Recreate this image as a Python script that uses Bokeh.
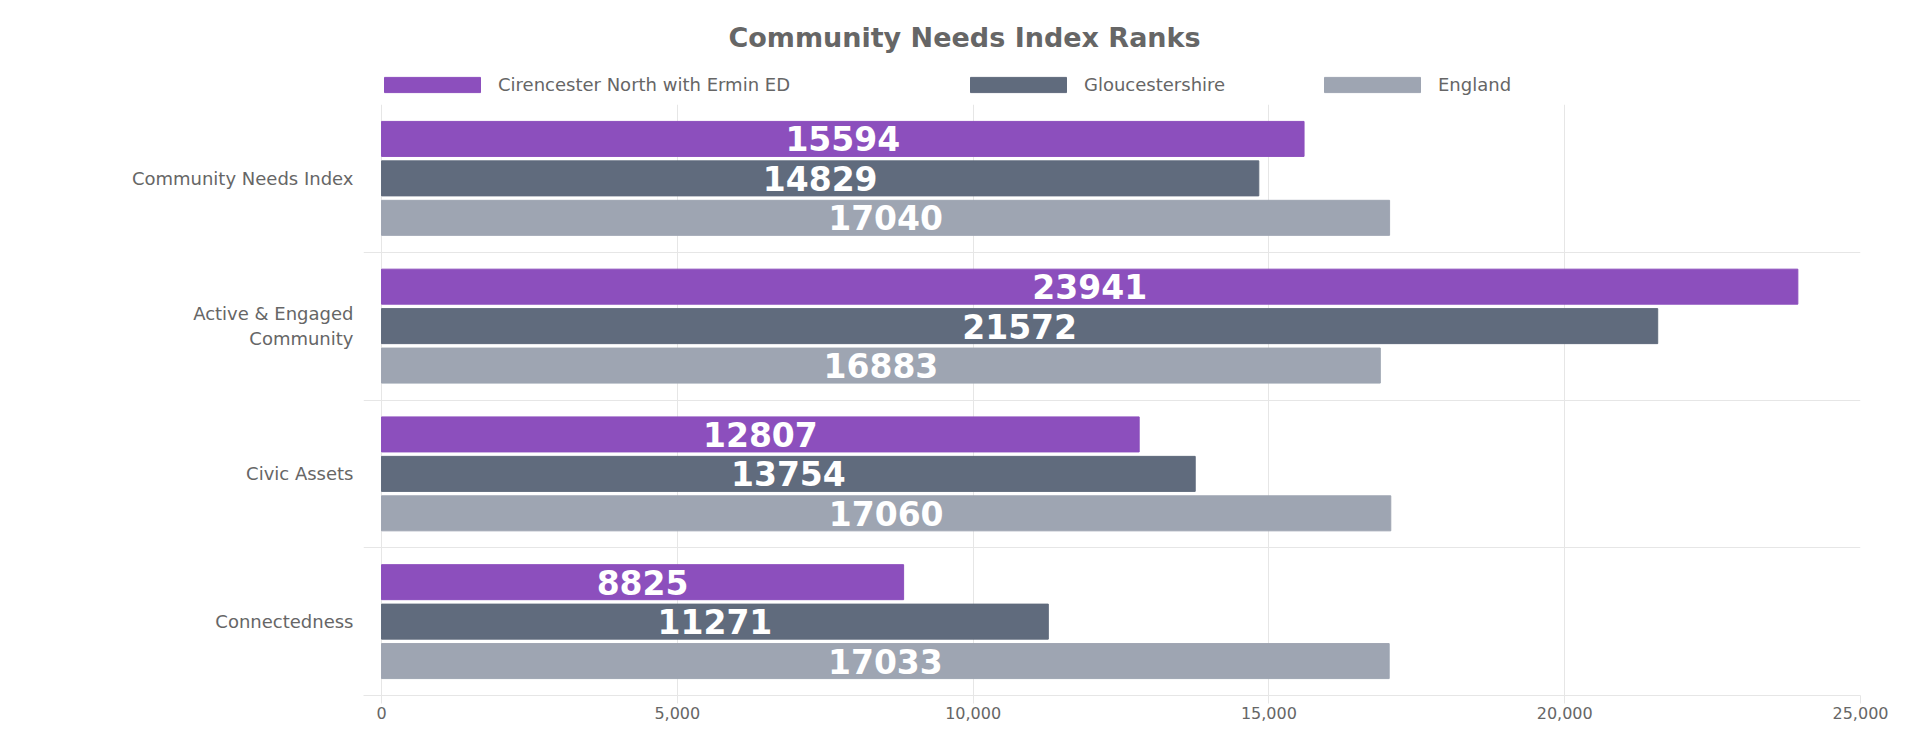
from bokeh.plotting import figure
from bokeh.layouts import column
from bokeh.models import (ColumnDataSource, FactorRange, Range1d, FixedTicker,
                          NumeralTickFormatter, Legend, LegendItem, Label)
from bokeh.transform import dodge
from bokeh.core.properties import value
from bokeh.embed import file_html
from bokeh.resources import INLINE

# ---------------- data ----------------
categories = ["Community Needs Index", "Active & Engaged\nCommunity", "Civic Assets", "Connectedness"]
series_names = ["Cirencester North with Ermin ED", "Gloucestershire", "England"]
cirencester = [15594, 23941, 12807, 8825]
gloucestershire = [14829, 21572, 13754, 11271]
england = [17040, 16883, 17060, 17033]
x_ticks = [0, 5000, 10000, 15000, 20000, 25000]
title_text = "Community Needs Index Ranks"

# ---------------- style ----------------
colors = ["#8c4fbd", "#606b7d", "#9ea5b2"]
FONT = "DejaVu Sans"
GRID = "#e6e6e6"
TEXT = "#666666"
offsets = [0.267, 0.0, -0.267]
bar_height = 0.237
W = 1914
HEADER_H = 104
FRAME_LEFT = 363
FRAME_RIGHT = 1860

series_values = [cirencester, gloucestershire, england]
sources = [ColumnDataSource(dict(cat=categories, val=vals,
                                 mid=[v / 2 for v in vals],
                                 label=[str(v) for v in vals]))
           for vals in series_values]

# ---------------- header (title + legend) ----------------
header = figure(width=W, height=HEADER_H, x_range=Range1d(0, 1),
                y_range=FactorRange(factors=categories[::-1]),
                x_axis_type=None, y_axis_type=None, toolbar_location=None,
                output_backend="svg", min_border_left=FRAME_LEFT,
                min_border_right=W - FRAME_RIGHT, min_border_top=0, min_border_bottom=0)
header.outline_line_color = None
header.xgrid.visible = False
header.ygrid.visible = False

legend_x = [372, 958, 1312]
for name, color, src, lx in zip(series_names, colors, sources, legend_x):
    proxy = header.hbar(y="cat", left=0, right="val", height=bar_height, source=src,
                        fill_color=color, line_color=color, visible=False)
    lg = Legend(items=[LegendItem(label=name, renderers=[proxy])],
                location=(lx - FRAME_LEFT, 9), click_policy="none",
                orientation="horizontal", padding=0, margin=0,
                border_line_color=None, background_fill_alpha=0,
                glyph_width=120, glyph_height=19, label_height=20, label_standoff=6,
                label_text_font=FONT, label_text_font_size="18px", label_text_color=TEXT)
    header.add_layout(lg, "center")

header.add_layout(Label(x=964 - FRAME_LEFT, y=HEADER_H - 37, x_units="screen", y_units="screen",
                        text=title_text, text_align="center", text_baseline="middle",
                        text_font=FONT, text_font_style="bold", text_font_size="27px",
                        text_color=TEXT))

# ---------------- main chart ----------------
p = figure(width=W, height=729 - HEADER_H,
           y_range=FactorRange(factors=categories[::-1]),
           x_range=Range1d(-305, x_ticks[-1]),
           output_backend="svg", toolbar_location=None, title=None,
           min_border_left=FRAME_LEFT, min_border_right=W - FRAME_RIGHT,
           min_border_top=0, min_border_bottom=34)
p.outline_line_color = None

for src, color, off in zip(sources, colors, offsets):
    p.hbar(y=dodge("cat", off, range=p.y_range), left=0, right="val", height=bar_height,
           fill_color=color, line_color=color, source=src)
    p.text(x="mid", y=dodge("cat", off, range=p.y_range), text="label", source=src,
           text_align="center", text_baseline="middle", text_color="white",
           text_font=value(FONT), text_font_style="bold", text_font_size="33px")

# grids: vertical at value ticks, horizontal at category boundaries
boundaries = list(range(len(categories) + 1))
p.xgrid.ticker = FixedTicker(ticks=x_ticks)
p.xgrid.grid_line_color = GRID
p.ygrid.ticker = FixedTicker(ticks=boundaries)
p.ygrid.grid_line_color = GRID

# x axis
xa = p.xaxis[0]
xa.ticker = FixedTicker(ticks=x_ticks)
xa.formatter = NumeralTickFormatter(format="0,0")
xa.axis_line_color = GRID
xa.major_tick_line_color = GRID
xa.major_tick_out = 8
xa.major_tick_in = 0
xa.minor_tick_line_color = None
xa.major_label_standoff = 3
xa.major_label_text_font = FONT
xa.major_label_text_font_size = "16px"
xa.major_label_text_color = TEXT

# y axis: category labels only
ya = p.yaxis[0]
ya.axis_line_color = None
ya.major_tick_line_color = None
ya.major_tick_out = 0
ya.major_tick_in = 0
ya.major_label_standoff = 10
ya.major_label_text_font = FONT
ya.major_label_text_font_size = "18px"
ya.major_label_text_color = TEXT

layout = column(header, p, spacing=0)
open("out.html", "w").write(file_html(layout, INLINE))
